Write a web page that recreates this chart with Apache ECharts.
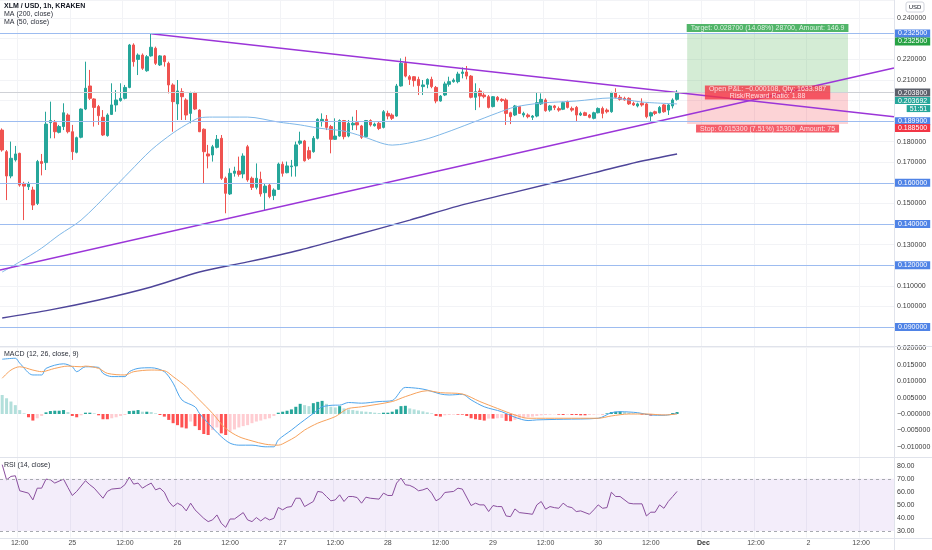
<!DOCTYPE html>
<html><head><meta charset="utf-8">
<script src="https://cdn.jsdelivr.net/npm/echarts/dist/echarts.min.js"></script>
<style>html,body{margin:0;padding:0;background:#fff}#c{width:932px;height:550px}</style>
</head><body><div id="c"></div>
<script>
const FONT = 'Liberation Sans, Arial, sans-serif';
const startHour = 8;      // first candle: Nov 24 08:00
const hourCount = 204;    // hourly slots across the plot
const dayLabels = ['25','26','27','28','29','30','Dec','2','3'];

// [open, close, low, high]
const candles = [
[0.1856,0.1759,0.1751,0.1864],[0.1751,0.1633,0.1516,0.1759],[0.1633,0.1719,0.1622,0.1800],[0.1711,0.1740,0.1703,0.1779],
[0.1743,0.1589,0.1581,0.1746],[0.1597,0.1584,0.1419,0.1605],[0.1581,0.1594,0.1565,0.1605],[0.1565,0.1492,0.1468,0.1581],
[0.1500,0.1703,0.1492,0.1711],[0.1703,0.1694,0.1636,0.1740],[0.1698,0.1885,0.1662,0.1945],[0.1892,0.1902,0.1816,0.1994],
[0.1892,0.1848,0.1816,0.1905],[0.1845,0.1873,0.1840,0.1881],[0.1873,0.1940,0.1856,0.1986],[0.1929,0.1848,0.1840,0.1937],
[0.1848,0.1751,0.1711,0.1881],[0.1748,0.1819,0.1743,0.1824],[0.1821,0.1958,0.1816,0.1961],[0.1958,0.2059,0.1953,0.2188],
[0.2070,0.2010,0.2002,0.2148],[0.2007,0.1966,0.1873,0.2010],[0.1970,0.1926,0.1881,0.1978],[0.1918,0.1832,0.1827,0.1953],
[0.1829,0.1929,0.1824,0.1937],[0.1932,0.1978,0.1929,0.2083],[0.1978,0.2002,0.1945,0.2050],[0.1999,0.2010,0.1994,0.2083],
[0.2010,0.2063,0.2005,0.2075],[0.2063,0.2269,0.2059,0.2274],[0.2269,0.2188,0.2164,0.2277],[0.2199,0.2220,0.2123,0.2228],
[0.2220,0.2156,0.2148,0.2228],[0.2144,0.2212,0.2139,0.2220],[0.2216,0.2258,0.2212,0.2326],[0.2253,0.2180,0.2172,0.2261],
[0.2172,0.2216,0.2167,0.2220],[0.2216,0.2188,0.2164,0.2220],[0.2180,0.2075,0.2034,0.2188],[0.2075,0.1994,0.1848,0.2083],
[0.1983,0.2046,0.1905,0.2099],[0.2042,0.2018,0.1905,0.2059],[0.2002,0.1929,0.1905,0.2010],[0.1937,0.2038,0.1889,0.2042],
[0.2038,0.1958,0.1953,0.2042],[0.1953,0.1848,0.1846,0.1957],[0.1860,0.1751,0.1597,0.1864],[0.1740,0.1730,0.1670,0.1784],
[0.1735,0.1775,0.1703,0.1784],[0.1772,0.1811,0.1767,0.1832],[0.1816,0.1622,0.1614,0.1832],[0.1622,0.1549,0.1452,0.1630],
[0.1546,0.1646,0.1541,0.1670],[0.1646,0.1657,0.1630,0.1678],[0.1657,0.1641,0.1630,0.1727],[0.1643,0.1730,0.1622,0.1743],
[0.1775,0.1614,0.1605,0.1784],[0.1622,0.1578,0.1565,0.1630],[0.1578,0.1622,0.1568,0.1694],[0.1617,0.1546,0.1533,0.1654],
[0.1552,0.1584,0.1468,0.1594],[0.1589,0.1533,0.1525,0.1597],[0.1538,0.1565,0.1516,0.1573],[0.1568,0.1691,0.1565,0.1698],
[0.1690,0.1646,0.1630,0.1703],[0.1649,0.1682,0.1646,0.1703],[0.1678,0.1682,0.1630,0.1711],[0.1682,0.1784,0.1630,0.1800],
[0.1792,0.1803,0.1784,0.1848],[0.1803,0.1707,0.1703,0.1808],[0.1756,0.1719,0.1711,0.1775],[0.1751,0.1816,0.1746,0.1827],
[0.1816,0.1908,0.1811,0.1913],[0.1897,0.1908,0.1873,0.1937],[0.1908,0.1869,0.1856,0.1929],[0.1873,0.1811,0.1743,0.1881],
[0.1811,0.1827,0.1808,0.1913],[0.1827,0.1902,0.1824,0.1908],[0.1902,0.1824,0.1811,0.1905],[0.1827,0.1889,0.1821,0.1905],
[0.1881,0.1889,0.1856,0.1921],[0.1892,0.1881,0.1856,0.1953],[0.1876,0.1821,0.1813,0.1881],[0.1824,0.1902,0.1821,0.1905],
[0.1902,0.1881,0.1873,0.1908],[0.1877,0.1885,0.1873,0.1892],[0.1889,0.1864,0.1856,0.1897],[0.1869,0.1945,0.1864,0.1953],
[0.1937,0.1924,0.1908,0.1950],[0.1929,0.1913,0.1905,0.1937],[0.1924,0.2070,0.1921,0.2080],[0.2070,0.2180,0.2067,0.2204],
[0.2180,0.2118,0.2112,0.2212],[0.2115,0.2102,0.2075,0.2123],[0.2115,0.2096,0.2067,0.2118],[0.2102,0.2072,0.2026,0.2115],
[0.2067,0.2075,0.2026,0.2099],[0.2078,0.2102,0.2059,0.2107],[0.2102,0.2067,0.2059,0.2115],[0.2063,0.1997,0.1986,0.2070],
[0.1997,0.2021,0.1994,0.2026],[0.2026,0.2080,0.2021,0.2091],[0.2078,0.2091,0.2067,0.2115],[0.2091,0.2099,0.2086,0.2107],
[0.2091,0.2128,0.2083,0.2139],[0.2131,0.2138,0.2107,0.2160],[0.2138,0.2118,0.2102,0.2167],[0.2118,0.2015,0.2010,0.2123],
[0.2015,0.2042,0.1953,0.2083],[0.2046,0.2021,0.1966,0.2059],[0.2026,0.2018,0.2010,0.2042],[0.2018,0.1966,0.1961,0.2026],
[0.1970,0.2018,0.1966,0.2021],[0.2015,0.2002,0.1994,0.2021],[0.2005,0.1999,0.1992,0.2010],[0.2002,0.1937,0.1881,0.2010],
[0.1940,0.1921,0.1885,0.1945],[0.1929,0.1973,0.1924,0.1978],[0.1970,0.1937,0.1934,0.1973],[0.1929,0.1937,0.1918,0.1945],
[0.1929,0.1921,0.1913,0.1937],[0.1918,0.1924,0.1905,0.1929],[0.1924,0.1989,0.1918,0.2038],[0.1983,0.2005,0.1978,0.2034],
[0.2002,0.1950,0.1945,0.2010],[0.1953,0.1973,0.1945,0.1978],[0.1973,0.1965,0.1953,0.1978],[0.1960,0.1953,0.1945,0.1970],
[0.1957,0.1989,0.1953,0.1994],[0.1994,0.1966,0.1961,0.1999],[0.1961,0.1953,0.1945,0.1970],[0.1966,0.1929,0.1897,0.1973],
[0.1929,0.1937,0.1924,0.1945],[0.1940,0.1927,0.1924,0.1945],[0.1929,0.1918,0.1913,0.1934],[0.1913,0.1940,0.1908,0.1945],
[0.1940,0.1961,0.1937,0.1966],[0.1961,0.1937,0.1913,0.1970],[0.1953,0.1945,0.1937,0.1961],[0.1945,0.2038,0.1940,0.2042],
[0.2038,0.2015,0.2010,0.2059],[0.2015,0.2005,0.1999,0.2026],[0.2010,0.2002,0.1999,0.2018],[0.2010,0.1983,0.1978,0.2015],
[0.1986,0.1978,0.1973,0.1994],[0.1973,0.1983,0.1966,0.1989],[0.1986,0.1978,0.1970,0.2010],[0.1983,0.1921,0.1913,0.1989],
[0.1924,0.1940,0.1897,0.1945],[0.1945,0.1937,0.1929,0.1950],[0.1940,0.1966,0.1937,0.1973],[0.1978,0.1945,0.1940,0.1983],
[0.1953,0.1978,0.1929,0.1983],[0.1973,0.2002,0.1961,0.2010],[0.2005,0.2037,0.1999,0.2050]
];

// moving averages: [slot, value]
const ma50 = [[0,0.1167],[4,0.1216],[9,0.1283],[13,0.1347],[18,0.1419],[25,0.1565],[29,0.1652],[34,0.1759],[39,0.1842],[43,0.1895],[45,0.1915],[48,0.1919],[56,0.1919],[63,0.1895],[68,0.1881],[72,0.1866],[78,0.1851],[82,0.1827],[89,0.1783],[96,0.1808],[101,0.1842],[107,0.1890],[113,0.1939],[117,0.1968],[123,0.1987],[131,0.1997],[139,0.2012],[146,0.1992],[154,0.1983]];
const ma200 = [[0,0.0944],[11,0.0983],[22,0.1031],[34,0.1094],[45,0.1167],[56,0.1216],[68,0.1274],[79,0.1337],[93,0.1419],[104,0.1487],[117,0.1555],[135,0.1648],[145,0.1701],[154,0.1740]];

const macdHist = [0.0058,0.0048,0.0038,0.0027,0.0012,0.0002,-0.0010,-0.0020,-0.0013,-0.0006,
0.0005,0.0009,0.0010,0.0010,0.0012,0.0006,-0.0006,-0.0010,-0.0004,0.0004,
0.0004,0.0002,-0.0004,-0.0016,-0.0016,-0.0013,-0.0010,-0.0006,-0.0003,0.0009,
0.0010,0.0012,0.0007,0.0007,0.0006,0.0002,-0.0003,-0.0008,-0.0018,-0.0028,
-0.0034,-0.0041,-0.0044,-0.0023,-0.0037,-0.0049,-0.0061,-0.0064,-0.0049,-0.0041,
-0.0059,-0.0064,-0.0054,-0.0047,-0.0041,-0.0037,-0.0034,-0.0028,-0.0023,-0.0020,
-0.0016,-0.0013,-0.0006,0.0004,0.0007,0.0010,0.0014,0.0022,0.0031,0.0027,
0.0024,0.0033,0.0037,0.0040,0.0031,0.0022,0.0020,0.0024,0.0017,0.0014,
0.0012,0.0010,0.0008,0.0007,0.0006,0.0004,0.0003,0.0004,0.0004,0.0007,
0.0014,0.0024,0.0025,0.0017,0.0014,0.0011,0.0008,0.0005,0.0002,-0.0006,
-0.0008,-0.0004,-0.0003,-0.0002,-0.0002,-0.0002,-0.0006,-0.0013,-0.0016,-0.0018,
-0.0020,-0.0014,-0.0014,-0.0013,-0.0012,-0.0021,-0.0022,-0.0018,-0.0015,-0.0013,
-0.0010,-0.0008,-0.0006,-0.0004,-0.0003,-0.0002,-0.0001,-0.0002,-0.0003,-0.0002,
-0.0003,-0.0003,-0.0004,-0.0004,-0.0003,-0.0002,-0.0001,-0.0001,0.0002,0.0006,
0.0007,0.0008,0.0006,0.0004,0.0002,0.0001,-0.0002,-0.0003,-0.0005,-0.0004,
-0.0003,-0.0002,-0.0001,0.0003,0.0006];
const macdLine = [[0,0.0167],[3,0.0170],[4,0.0155],[7,0.0119],[9,0.0119],[10,0.0139],[14,0.0153],[16,0.0144],[17,0.0129],[19,0.0144],[22,0.0142],[23,0.0124],[25,0.0114],[28,0.0114],[29,0.0129],[31,0.0139],[34,0.0141],[37,0.0129],[39,0.0094],[41,0.0043],[44,0.0022],[45,0.0002],[47,-0.0028],[50,-0.0069],[52,-0.0089],[54,-0.0095],[57,-0.0095],[60,-0.0100],[62,-0.0100],[63,-0.0079],[66,-0.0049],[68,-0.0028],[70,-0.0008],[72,0.0012],[73,0.0022],[76,0.0027],[77,0.0027],[79,0.0035],[82,0.0033],[86,0.0038],[89,0.0041],[92,0.0081],[95,0.0078],[97,0.0073],[100,0.0061],[102,0.0058],[105,0.0060],[107,0.0043],[110,0.0022],[114,0.0007],[117,-0.0010],[120,-0.0020],[122,-0.0018],[128,-0.0016],[136,-0.0013],[139,0.0004],[141,0.0007],[145,0.0004],[148,-0.0003],[151,-0.0004],[154,0.0002]];
const signalLine = [[0,0.0109],[2,0.0134],[4,0.0144],[7,0.0134],[9,0.0129],[12,0.0139],[15,0.0146],[18,0.0144],[19,0.0146],[22,0.0139],[24,0.0124],[28,0.0119],[30,0.0129],[34,0.0134],[37,0.0132],[39,0.0114],[42,0.0083],[45,0.0043],[48,0.0002],[51,-0.0044],[54,-0.0069],[57,-0.0082],[60,-0.0092],[63,-0.0095],[65,-0.0084],[67,-0.0069],[69,-0.0049],[72,-0.0028],[76,-0.0008],[78,0.0010],[79,0.0017],[82,0.0022],[89,0.0038],[92,0.0053],[97,0.0071],[100,0.0065],[105,0.0061],[109,0.0038],[113,0.0017],[117,-0.0003],[120,-0.0013],[128,-0.0013],[136,-0.0013],[139,-0.0006],[143,0.0000],[147,0.0000],[151,-0.0003],[154,0.0000]];

const rsi = [[0,80.8],[1,69.2],[2,71.8],[3,72.3],[4,60.8],[6,59.0],[7,53.8],[8,62.8],[9,62.8],[10,69.7],[11,69.2],[12,66.7],[14,69.7],[15,63.3],[16,57.2],[17,60.3],[19,68.5],[20,65.4],[21,62.8],[23,55.1],[24,60.3],[25,62.1],[27,62.8],[28,65.4],[29,71.3],[30,65.9],[31,66.7],[32,62.8],[33,64.9],[34,66.7],[35,61.5],[36,62.8],[37,59.7],[38,52.6],[39,48.7],[40,51.3],[41,49.5],[42,45.4],[43,51.3],[44,46.2],[46,39.7],[47,37.2],[48,38.5],[49,42.3],[50,35.9],[51,32.8],[52,39.2],[53,39.2],[55,44.1],[56,38.5],[57,37.2],[58,40.3],[59,37.7],[60,40.3],[61,38.5],[62,39.7],[63,48.0],[64,46.2],[65,48.2],[66,48.7],[67,55.1],[68,55.1],[69,48.7],[71,52.6],[72,60.3],[73,59.7],[74,56.4],[75,53.1],[76,53.8],[77,57.7],[78,52.6],[79,56.4],[80,56.4],[81,55.6],[82,51.3],[83,55.9],[84,55.1],[86,54.4],[87,59.0],[88,57.2],[89,57.2],[90,66.7],[91,70.5],[92,65.4],[93,64.9],[94,63.3],[95,60.8],[96,61.5],[97,62.8],[98,59.0],[99,53.1],[100,55.1],[101,59.5],[103,60.3],[104,62.8],[105,62.1],[107,49.5],[108,51.3],[109,50.0],[110,50.0],[111,44.9],[112,49.5],[113,48.7],[114,48.7],[115,41.5],[116,41.0],[117,46.9],[118,44.1],[120,43.3],[121,42.8],[122,50.0],[123,52.6],[124,46.7],[125,48.7],[126,47.9],[127,47.4],[128,51.3],[129,48.7],[130,47.9],[131,44.9],[132,45.4],[134,42.8],[135,46.2],[136,50.0],[137,47.4],[138,47.9],[139,59.7],[140,56.4],[141,56.4],[143,51.3],[144,50.8],[146,50.8],[147,41.5],[148,44.4],[149,44.4],[150,50.0],[151,47.4],[152,52.6],[153,56.4],[154,60.3]];
const rsiBand = [30, 70];

// drawings
const levels = [0.2325, 0.1899, 0.16, 0.14, 0.12, 0.09];
const entryPrice = 0.2038, targetPrice = 0.2325, stopPrice = 0.1885, lastPrice = 0.203692;
const positionSpan = [156.3, 193];
const upperTrend = [[34, 0.2323], [203.5, 0.1921]];
const lowerTrend = [[-0.5, 0.1177], [203.5, 0.2157]];
const positionTexts = ['Target: 0.028700 (14.08%) 28700, Amount: 146.9',
  'Open P&L: \u22120.000108, Qty: 1633.987\nRisk/Reward Ratio: 1.88',
  'Stop: 0.015300 (7.51%) 15300, Amount: 75'];
const countdown = '51:51';

const cats = Array.from({length: hourCount}, (_, i) => String(i));
const tickShown = (idx) => (startHour + idx) % 12 === 0;
const tickText = (val, idx) => {
  const h = (startHour + idx) % 24;
  if (h === 12) return '12:00';
  if (h === 0) { const d = dayLabels[Math.floor((startHour + idx) / 24) - 1]; return d === 'Dec' ? '{b|Dec}' : d; }
  return '';
};
const f6 = v => Number(v).toFixed(6);
const macdFmt = v => Math.abs(v) < 1e-9 ? '\u22120.000000' : (v < 0 ? '\u2212' : '') + Math.abs(v).toFixed(6);
const histColor = p => {
  const i = p.dataIndex, v = macdHist[i];
  const prev = i > 0 ? macdHist[i - 1] : v + 1;
  if (v >= 0) return v >= prev ? '#26a69a' : '#b2dfdb';
  return v <= prev ? '#ff5252' : '#ffcdd2';
};

const lblBase = {show: true, position: 'end', distance: 1, fontSize: 7, color: '#fff', padding: [1, 3, 0, 3], lineHeight: 7, fontFamily: FONT, formatter: p => f6(p.value)};
const hidden = {color: 'rgba(0,0,0,0)', width: 1};
const levelLines = levels.map(v => ({yAxis: v, lineStyle: {color: '#9dbcf0', width: 1, type: 'solid'}, label: Object.assign({}, lblBase, {backgroundColor: '#4f83e6'})}));

const catAxis = (g, labels) => ({
  type: 'category', gridIndex: g, data: cats, boundaryGap: true,
  axisLine: {show: false}, axisTick: {show: false},
  axisLabel: labels ? {show: true, interval: tickShown, formatter: tickText, fontSize: 7, color: '#4a4a4a', margin: 2, fontFamily: FONT, rich: {b: {fontWeight: 'bold', fontSize: 7, color: '#333'}}} : {show: false},
  splitLine: {show: true, interval: tickShown, lineStyle: {color: '#f2f3f6', width: 1}}
});
const yLbl = (fmt) => ({fontSize: 7, color: '#3a3a3a', margin: 3, fontFamily: FONT, showMinLabel: false, showMaxLabel: false, formatter: fmt});

const posX = (positionSpan[0] + positionSpan[1]) / 2;
const posLbl = {show: true, fontSize: 7, color: '#fff', fontFamily: FONT, lineHeight: 8, padding: [0, 4, 0, 4]};

const option = {
  animation: false,
  backgroundColor: '#ffffff',
  textStyle: {fontFamily: FONT},
  title: [
    {text: 'XLM / USD, 1h, KRAKEN', subtext: 'MA (200, close)\nMA (50, close)', left: 4, top: 2, padding: 0, itemGap: 0,
     textStyle: {fontSize: 7, fontWeight: 'bold', color: '#131722', lineHeight: 8, fontFamily: FONT},
     subtextStyle: {fontSize: 7, color: '#2a2e39', lineHeight: 8, fontFamily: FONT}},
    {text: 'MACD (12, 26, close, 9)', left: 4, top: 350, padding: 0, textStyle: {fontSize: 7, fontWeight: 'normal', color: '#2a2e39', lineHeight: 8, fontFamily: FONT}},
    {text: 'RSI (14, close)', left: 4, top: 461, padding: 0, textStyle: {fontSize: 7, fontWeight: 'normal', color: '#2a2e39', lineHeight: 8, fontFamily: FONT}}
  ],
  grid: [
    {left: 0, right: 38, top: 0, height: 347.6, containLabel: false, outerBoundsMode: 'none'},
    {left: 0, right: 38, top: 346.76, height: 116.44, containLabel: false, outerBoundsMode: 'none'},
    {left: 0, right: 38, top: 459.17, height: 78.36, containLabel: false, outerBoundsMode: 'none'}
  ],
  xAxis: [
    catAxis(0, false),
    {type: 'value', gridIndex: 0, min: -0.5, max: 203.5, show: false, splitLine: {show: false}},
    catAxis(1, false),
    catAxis(2, true)
  ],
  yAxis: [
    {type: 'value', gridIndex: 0, position: 'right', min: 0.08, max: 0.248738, interval: 0.01, axisLine: {show: false}, axisTick: {show: false},
     axisLabel: yLbl(f6), splitLine: {show: true, lineStyle: {color: '#f2f3f6'}}},
    {type: 'value', gridIndex: 1, position: 'right', min: -0.015, max: 0.0205, interval: 0.005, axisLine: {show: false}, axisTick: {show: false},
     axisLabel: yLbl(macdFmt), splitLine: {show: false}},
    {type: 'value', gridIndex: 2, position: 'right', min: 25, max: 85, interval: 5, axisLine: {show: false}, axisTick: {show: false},
     axisLabel: yLbl(v => v % 10 === 0 ? v.toFixed(2) : ''), splitLine: {show: false}}
  ],
  series: [
    {type: 'candlestick', name: 'XLM', xAxisIndex: 0, yAxisIndex: 0, data: candles, barWidth: 3,
     itemStyle: {color: '#26a69a', color0: '#ef5350', borderColor: '#26a69a', borderColor0: '#ef5350', borderWidth: 1},
     markLine: {silent: true, symbol: ['none', 'none'], animation: false, precision: 6, z: 5,
       data: [
         levelLines[0],
         {yAxis: targetPrice, lineStyle: hidden, label: Object.assign({}, lblBase, {backgroundColor: '#26a243', offset: [0, 8]})},
         {yAxis: entryPrice, lineStyle: {color: '#cfd1d6', width: 1, type: 'solid'}, label: Object.assign({}, lblBase, {backgroundColor: '#5d606b'})},
         {yAxis: lastPrice, lineStyle: hidden, label: Object.assign({}, lblBase, {offset: [0, 11.8], padding: 0,
            formatter: p => '{a|' + f6(p.value) + '}\n{b|' + countdown + '}',
            rich: {a: {backgroundColor: '#26a69a', color: '#fff', fontSize: 7, lineHeight: 8, padding: [0, 3, 0, 3]},
                   b: {backgroundColor: '#26a69a', color: '#fff', fontSize: 7, lineHeight: 8, padding: [0, 3, 0, 3], align: 'right'}}})},
         levelLines[1],
         {yAxis: stopPrice, lineStyle: hidden, label: Object.assign({}, lblBase, {backgroundColor: '#f23645', offset: [0, 4]})},
         levelLines[2], levelLines[3], levelLines[4], levelLines[5]
       ]}
    },
    {type: 'line', name: 'MA200', xAxisIndex: 0, yAxisIndex: 0, data: ma200, smooth: 0.3, symbol: 'none', lineStyle: {color: '#4e4599', width: 1.4}, z: 3},
    {type: 'line', name: 'MA50', xAxisIndex: 0, yAxisIndex: 0, data: ma50, smooth: 0.3, symbol: 'none', lineStyle: {color: '#7fb8e8', width: 1}, z: 3},
    {type: 'line', name: 'upper', xAxisIndex: 1, yAxisIndex: 0, data: upperTrend, symbol: 'none', lineStyle: {color: '#9b35d8', width: 1.5}, z: 4,
     markArea: {silent: true, data: [
       [{coord: [positionSpan[0], targetPrice], itemStyle: {color: 'rgba(76,175,80,0.24)'}}, {coord: [positionSpan[1], entryPrice]}],
       [{coord: [positionSpan[0], entryPrice], itemStyle: {color: 'rgba(242,54,69,0.22)'}}, {coord: [positionSpan[1], stopPrice]}]
     ]}},
    {type: 'line', name: 'lower', xAxisIndex: 1, yAxisIndex: 0, data: lowerTrend, symbol: 'none', lineStyle: {color: '#9b35d8', width: 1.5}, z: 4},
    {type: 'scatter', name: 'position', xAxisIndex: 1, yAxisIndex: 0, symbolSize: 1, itemStyle: {color: 'rgba(0,0,0,0)'}, z: 6,
     data: [
       {value: [posX, targetPrice], label: Object.assign({}, posLbl, {position: 'top', distance: 1, formatter: positionTexts[0], backgroundColor: '#26a243'})},
       {value: [posX, entryPrice], label: Object.assign({}, posLbl, {position: 'inside', formatter: positionTexts[1], backgroundColor: '#f23645', lineHeight: 7, padding: [0, 4, 0, 4]})},
       {value: [posX, stopPrice], label: Object.assign({}, posLbl, {position: 'bottom', distance: 0, formatter: positionTexts[2], backgroundColor: '#f23645'})}
     ]},
    {type: 'bar', name: 'Histogram', xAxisIndex: 2, yAxisIndex: 1, data: macdHist, barWidth: 3, itemStyle: {color: histColor}},
    {type: 'line', name: 'MACD', xAxisIndex: 2, yAxisIndex: 1, data: macdLine, smooth: 0.3, symbol: 'none', lineStyle: {color: '#4ea5ec', width: 1}},
    {type: 'line', name: 'Signal', xAxisIndex: 2, yAxisIndex: 1, data: signalLine, smooth: 0.3, symbol: 'none', lineStyle: {color: '#f7a25c', width: 1}},
    {type: 'line', name: 'RSI', xAxisIndex: 3, yAxisIndex: 2, data: rsi, symbol: 'none', lineStyle: {color: '#8a4f9e', width: 1}, z: 4,
     markArea: {silent: true, itemStyle: {color: 'rgba(149,87,214,0.11)'}, data: [[{yAxis: rsiBand[1]}, {yAxis: rsiBand[0]}]]},
     markLine: {silent: true, symbol: ['none', 'none'], label: {show: false}, lineStyle: {color: '#a7a9b0', type: [3, 3], width: 1},
       data: [{yAxis: rsiBand[1]}, {yAxis: rsiBand[0]}]}}
  ],
  graphic: [
    {type: 'line', z: 100, shape: {x1: 0, y1: 346.5, x2: 932, y2: 346.5}, style: {stroke: '#e0e3eb', lineWidth: 1}},
    {type: 'line', z: 100, shape: {x1: 0, y1: 457.5, x2: 932, y2: 457.5}, style: {stroke: '#e0e3eb', lineWidth: 1}},
    {type: 'line', z: 100, shape: {x1: 0, y1: 538.5, x2: 932, y2: 538.5}, style: {stroke: '#e0e3eb', lineWidth: 1}},
    {type: 'line', z: 100, shape: {x1: 894.5, y1: 0, x2: 894.5, y2: 550}, style: {stroke: '#e0e3eb', lineWidth: 1}},
    {type: 'rect', z: 100, shape: {x: 906, y: 2, width: 18, height: 10, r: 2}, style: {fill: '#fff', stroke: '#d1d4dc', lineWidth: 1}},
    {type: 'text', z: 101, style: {text: 'USD', x: 915, y: 7, align: 'center', verticalAlign: 'middle', fontSize: 6, fill: '#131722', fontFamily: FONT}}
  ]
};
const chart = echarts.init(document.getElementById('c'), null, {renderer: 'canvas'});
chart.setOption(option);
</script></body></html>
